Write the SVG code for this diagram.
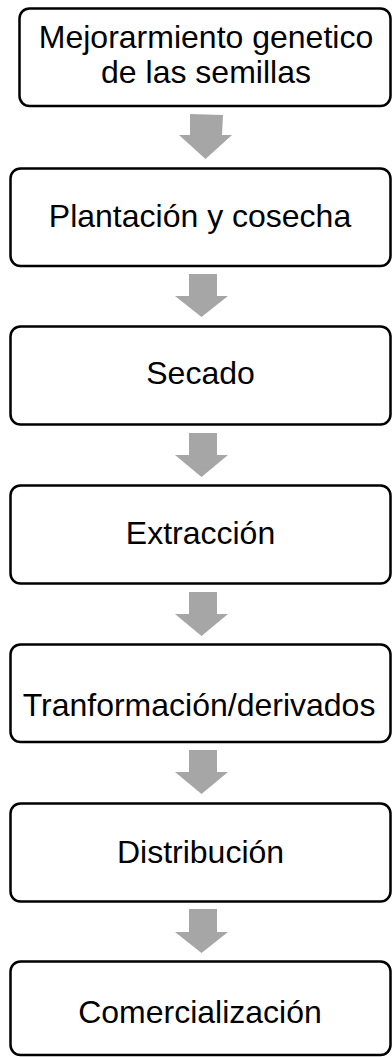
<svg xmlns="http://www.w3.org/2000/svg" width="392" height="1057" viewBox="0 0 392 1057">
<style>
.box{fill:#fff;stroke:#000;stroke-width:2.5}
.lbl{font-family:"Liberation Sans",Arial,sans-serif;font-size:32px;fill:#000;text-anchor:middle}
.arr{fill:#a6a6a6}
</style>
<rect width="392" height="1057" fill="#fff"/>
<g id="connectors">
<polygon class="arr" points="190,114 223,115 222,135 232,135 205.5,159 179,135 190,135"/>
<polygon class="arr" points="189,274 217,274 217,296 228,296 201.5,317 175,296 189,296"/>
<polygon class="arr" points="189,433 217,433 217,455 228,455 201.5,477 175,455 189,455"/>
<polygon class="arr" points="189,592 217,592 217,614 228,614 201.5,636 175,614 189,614"/>
<polygon class="arr" points="189,750 217,750 217,772 228,772 201.5,794 175,772 189,772"/>
<polygon class="arr" points="189,909 217,909 217,932 228,932 201.5,953 175,932 189,932"/>
</g>
<g id="n1"><rect class="box" x="19.5" y="8.5" width="371" height="97.5" rx="10"/><text class="lbl" x="206" y="48">Mejorarmiento genetico</text><text class="lbl" x="206" y="83">de las semillas</text></g>
<g id="n2"><rect class="box" x="10.5" y="168.5" width="380" height="97.5" rx="10"/><text class="lbl" x="200" y="227">Plantación y cosecha</text></g>
<g id="n3"><rect class="box" x="10.5" y="326.5" width="380" height="98" rx="10"/><text class="lbl" x="200.5" y="384">Secado</text></g>
<g id="n4"><rect class="box" x="10.5" y="485.5" width="380" height="98" rx="10"/><text class="lbl" x="200.5" y="544">Extracción</text></g>
<g id="n5"><rect class="box" x="10.5" y="644.5" width="380" height="97.5" rx="10"/><text class="lbl" x="199" y="716">Tranformación/derivados</text></g>
<g id="n6"><rect class="box" x="10.5" y="803.5" width="380" height="98" rx="10"/><text class="lbl" x="200.5" y="863">Distribución</text></g>
<g id="n7"><rect class="box" x="10.5" y="961.5" width="380" height="93.5" rx="10"/><text class="lbl" x="200" y="1023">Comercialización</text></g>
</svg>
